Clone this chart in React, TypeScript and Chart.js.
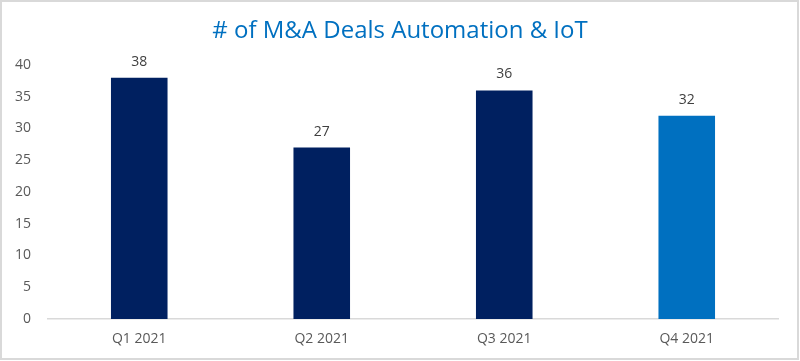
import React, { useEffect, useRef } from "react";
import { Chart, registerables } from "chart.js";

Chart.register(...registerables);

const categories = ["Q1 2021", "Q2 2021", "Q3 2021", "Q4 2021"];
const deals = [38, 27, 36, 32];
const barColors = ["#002060", "#002060", "#002060", "#0070C0"];
const titleText = "# of M&A Deals Automation & IoT";

const FONT = "'Open Sans', 'Noto Sans', sans-serif";

const valueLabels = {
  id: "valueLabels",
  afterDatasetsDraw(chart: any) {
    const ctx = chart.ctx;
    const meta = chart.getDatasetMeta(0);
    ctx.save();
    ctx.fillStyle = "#404040";
    ctx.font = `14px ${FONT}`;
    ctx.textAlign = "center";
    ctx.textBaseline = "middle";
    meta.data.forEach((bar: any, i: number) => {
      ctx.fillText(String(chart.data.datasets[0].data[i]), bar.x, bar.y - 16);
    });
    ctx.restore();
  },
};

const centeredTitle = {
  id: "centeredTitle",
  afterDraw(chart: any) {
    const ctx = chart.ctx;
    ctx.save();
    ctx.fillStyle = "#0070C0";
    ctx.font = `24px ${FONT}`;
    ctx.textAlign = "center";
    ctx.textBaseline = "middle";
    ctx.fillText(titleText, chart.width / 2, 31);
    ctx.restore();
  },
};

const frame = {
  id: "frame",
  afterDraw(chart: any) {
    const ctx = chart.ctx;
    ctx.save();
    ctx.strokeStyle = "#D9D9D9";
    ctx.lineWidth = 2;
    ctx.strokeRect(1, 1, chart.width - 3, chart.height - 3);
    ctx.restore();
  },
};

export default function App() {
  const ref = useRef<HTMLCanvasElement | null>(null);
  useEffect(() => {
    document.body.style.margin = "0";
    const chart = new Chart(ref.current!, {
      type: "bar",
      data: {
        labels: categories,
        datasets: [
          {
            data: deals,
            backgroundColor: barColors,
            barPercentage: 0.31,
            categoryPercentage: 1,
          },
        ],
      },
      options: {
        animation: false,
        responsive: false,
        layout: { padding: { left: 0, right: 22, top: 65, bottom: 0 } },
        plugins: {
          legend: { display: false },
          tooltip: { enabled: false },
          title: { display: false },
        },
        scales: {
          x: {
            grid: { display: false, drawTicks: false },
            border: { display: true, color: "#D9D9D9", width: 1.5 },
            ticks: { color: "#595959", font: { family: FONT, size: 14 }, padding: 12 },
            afterFit(scale: any) {
              scale.height = 42;
            },
          },
          y: {
            min: 0,
            max: 40,
            grid: { display: false, drawTicks: false },
            border: { display: false },
            ticks: { stepSize: 5, color: "#595959", font: { family: FONT, size: 14 }, padding: 17 },
            afterFit(scale: any) {
              scale.width = 48;
            },
          },
        },
      },
      plugins: [valueLabels, centeredTitle, frame],
    });
    return () => chart.destroy();
  }, []);
  return (
    <div style={{ position: "absolute", left: 0, top: 0, width: 800, height: 361 }}>
      <canvas ref={ref} width={800} height={361} style={{ width: 800, height: 361, display: "block" }} />
    </div>
  );
}
